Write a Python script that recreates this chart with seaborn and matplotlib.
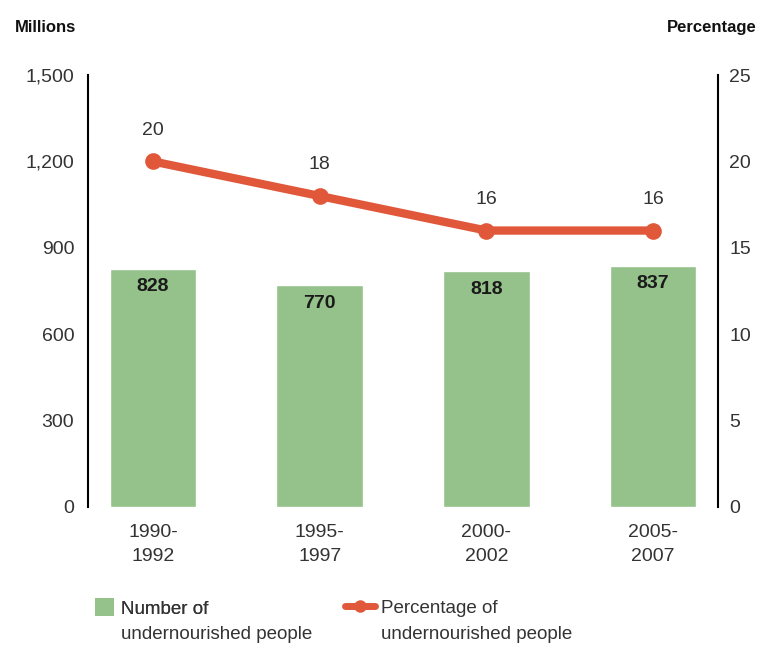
import matplotlib
matplotlib.use("Agg")
import matplotlib.pyplot as plt
import seaborn as sns
import pandas as pd
from matplotlib.lines import Line2D
from matplotlib.patches import Patch

periods = ["1990-\n1992", "1995-\n1997", "2000-\n2002", "2005-\n2007"]
millions = [828, 770, 818, 837]
percentage = [20, 18, 16, 16]
left_ticks = [0, 300, 600, 900, 1200, 1500]
left_tick_labels = ["0", "300", "600", "900", "1,200", "1,500"]
right_ticks = [0, 5, 10, 15, 20, 25]
legend_first = ["Number of", "Percentage of"]
legend_second = ["undernourished people", "undernourished people"]

sns.set_theme(style="white")
plt.rcParams['font.family'] = ['Liberation Sans', 'DejaVu Sans']

BAR = "#94c28a"
LINE = "#e0573a"
TXT = "#333333"

df = pd.DataFrame({"period": periods, "millions": millions, "pct": percentage})

fig = plt.figure(figsize=(7.59, 6.47), dpi=100)
ax = fig.add_axes([0.116, 0.2164, 0.830, 0.6676])
sns.barplot(data=df, x="period", y="millions", color=BAR, width=0.52,
            saturation=1, ax=ax)
ax.set_ylim(0, 1500)
ax.set_xlim(-0.39, 3.39)
ax.set_yticks(left_ticks)
ax.set_yticklabels(left_tick_labels)
ax.set_xlabel("")
ax.set_ylabel("")
ax.tick_params(axis="y", length=0, labelsize=14, labelcolor=TXT, pad=10)
ax.tick_params(axis="x", length=0, labelsize=14, labelcolor=TXT, pad=12)
for lab in ax.get_xticklabels():
    lab.set_linespacing(1.6)
for s in ["top", "bottom", "right"]:
    ax.spines[s].set_visible(False)
ax.spines["left"].set_color("black")
ax.spines["left"].set_linewidth(1.5)

for i, v in enumerate(millions):
    ax.text(i, v - 62, str(v), ha="center", va="center", fontsize=14,
            fontweight="bold", color="#1a1a1a")

ax2 = ax.twinx()
sns.lineplot(x=list(range(len(periods))), y=percentage, ax=ax2, color=LINE,
             linewidth=6, marker="o", markersize=12, markeredgewidth=0)
ax2.set_ylim(0, 25)
ax2.set_xlim(-0.39, 3.39)
ax2.set_yticks(right_ticks)
ax2.tick_params(axis="y", length=0, labelsize=14, labelcolor=TXT, pad=8)
for s in ["top", "bottom", "left"]:
    ax2.spines[s].set_visible(False)
ax2.spines["right"].set_color("black")
ax2.spines["right"].set_linewidth(1.5)
for i, v in enumerate(percentage):
    ax2.text(i, v + 1.8, str(v), ha="center", va="center", fontsize=14,
             color=TXT)

fig.text(0.02, 0.957, "Millions", fontsize=12, fontweight="bold",
         ha="left", va="center", color="#111111")
fig.text(0.997, 0.957, "Percentage", fontsize=12, fontweight="bold",
         ha="right", va="center", color="#111111")

leg1 = fig.legend([Patch(facecolor=BAR, edgecolor="none")],
                  [legend_first[0]],
                  loc="center left", bbox_to_anchor=(0.125, 0.060),
                  frameon=False, fontsize=13.5, handlelength=1.0,
                  handleheight=1.1, handletextpad=0.4, labelcolor=TXT,
                  borderaxespad=0, borderpad=0)
fig.legend([Line2D([0], [0], color=LINE, linewidth=5, marker="o",
                   markersize=9, markeredgewidth=0)],
           [legend_first[1]],
           loc="center left", bbox_to_anchor=(0.4545, 0.060),
           frameon=False, fontsize=13.5, handlelength=1.6,
           handletextpad=0.3, labelcolor=TXT, borderaxespad=0, borderpad=0)
fig.add_artist(leg1)
fig.text(0.1594, 0.019, legend_second[0], fontsize=13.5, color=TXT,
         ha="left", va="center")
fig.text(0.5015, 0.019, legend_second[1], fontsize=13.5, color=TXT,
         ha="left", va="center")

fig.savefig("out.png", dpi=100)
